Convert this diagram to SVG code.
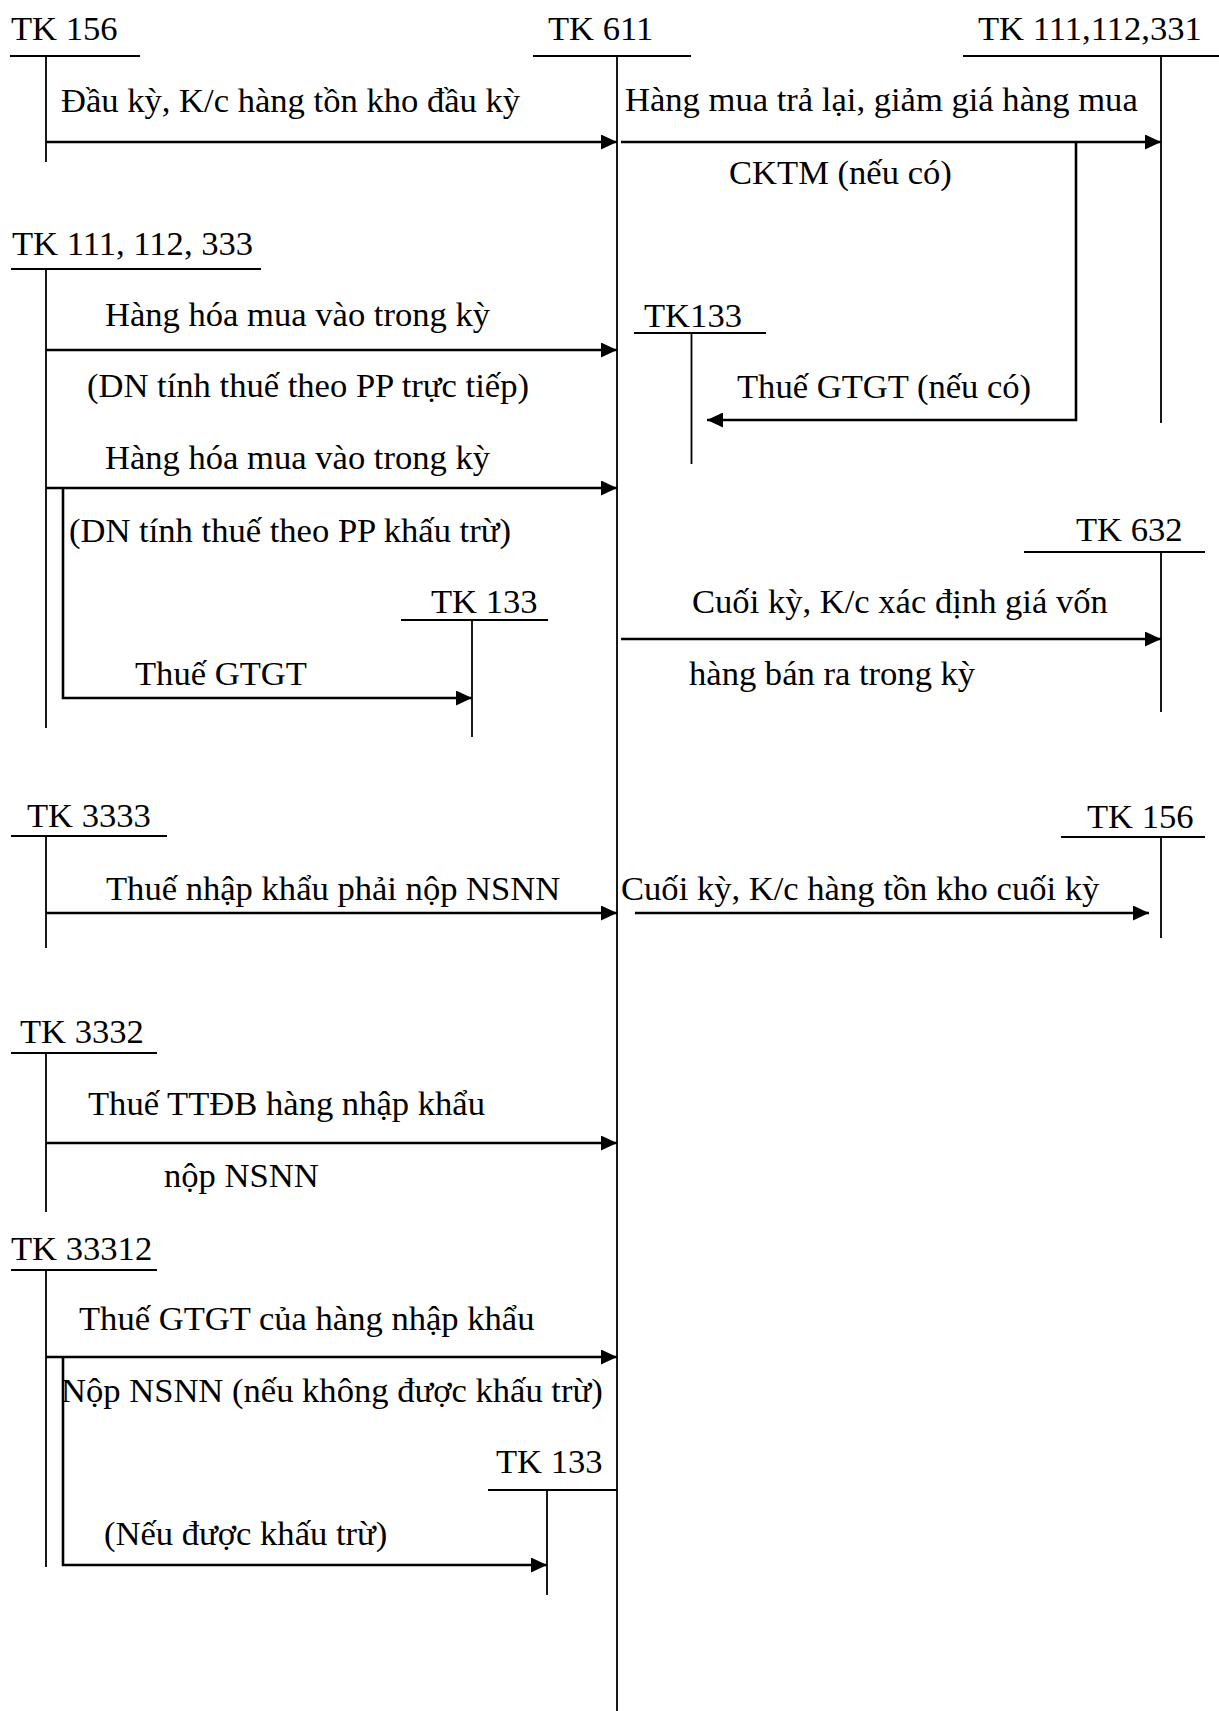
<svg xmlns="http://www.w3.org/2000/svg" width="1219" height="1711" viewBox="0 0 1219 1711">
<style>
text{font-family:"Liberation Serif","Times New Roman",serif;font-size:34.6px;fill:#000}
.t{stroke:#000;stroke-width:1.8;fill:none}
.a{stroke:#000;stroke-width:2.6;fill:none;marker-end:url(#ah)}
</style>
<defs>
<marker id="ah" markerUnits="userSpaceOnUse" markerWidth="17" markerHeight="15" refX="16" refY="7.5" orient="auto">
<path d="M0,0 L16,7.5 L0,15 z" fill="#000"/>
</marker>
</defs>
<rect width="1219" height="1711" fill="#fff"/>
<g id="tk156-top">
<text x="11" y="40">TK 156</text>
<path class="t" d="M10,56 H140 M46,56 V162"/>
</g>
<g id="tk611">
<text x="548" y="40">TK 611</text>
<path class="t" d="M533,56 H691 M617,56 V1711"/>
</g>
<g id="tk111-112-331">
<text x="978" y="40">TK 111,112,331</text>
<path class="t" d="M963,56 H1219 M1161,56 V423"/>
</g>
<g id="tk111-112-333">
<text x="12" y="255">TK 111, 112, 333</text>
<path class="t" d="M11,269 H261 M46,269 V728"/>
</g>
<g id="tk133-center">
<text x="644" y="327">TK133</text>
<path class="t" d="M634,333 H766 M691.5,333 V464"/>
</g>
<g id="tk133-left">
<text x="431" y="613">TK 133</text>
<path class="t" d="M401,620 H548 M472,620 V737"/>
</g>
<g id="tk632">
<text x="1076" y="541">TK 632</text>
<path class="t" d="M1024,552 H1205 M1161,552 V712"/>
</g>
<g id="tk3333">
<text x="27" y="827">TK 3333</text>
<path class="t" d="M11,836 H167 M46,836 V948"/>
</g>
<g id="tk156-right">
<text x="1087" y="828">TK 156</text>
<path class="t" d="M1061,837 H1205 M1161,837 V938"/>
</g>
<g id="tk3332">
<text x="20" y="1043">TK 3332</text>
<path class="t" d="M11,1053 H157 M46,1053 V1212"/>
</g>
<g id="tk33312">
<text x="11" y="1260">TK 33312</text>
<path class="t" d="M11,1270 H157 M46,1270 V1567"/>
</g>
<g id="tk133-bottom">
<text x="496" y="1473">TK 133</text>
<path class="t" d="M488,1490 H617 M547,1490 V1595"/>
</g>
<g id="connectors">
<path class="a" d="M46,142 H617"/>
<text x="61" y="112">Đầu kỳ, K/c hàng tồn kho đầu kỳ</text>
<path class="a" d="M621,142 H1161"/>
<text x="625" y="111">Hàng mua trả lại, giảm giá hàng mua</text>
<text x="729" y="184">CKTM (nếu có)</text>
<path class="a" d="M1076,142 V420 H707"/>
<text x="737" y="398">Thuế GTGT (nếu có)</text>
<path class="a" d="M46,350 H617"/>
<text x="105" y="326">Hàng hóa mua vào trong kỳ</text>
<text x="87" y="397">(DN tính thuế theo PP trực tiếp)</text>
<path class="a" d="M46,488 H617"/>
<text x="105" y="469">Hàng hóa mua vào trong kỳ</text>
<text x="69" y="542">(DN tính thuế theo PP khấu trừ)</text>
<path class="a" d="M63,488 V698 H472"/>
<text x="135" y="685">Thuế GTGT</text>
<path class="a" d="M621,639 H1161"/>
<text x="692" y="613">Cuối kỳ, K/c xác định giá vốn</text>
<text x="689" y="685">hàng bán ra trong kỳ</text>
<path class="a" d="M46,913 H617"/>
<text x="106" y="900">Thuế nhập khẩu phải nộp NSNN</text>
<path class="a" d="M635,913 H1149"/>
<text x="621" y="900">Cuối kỳ, K/c hàng tồn kho cuối kỳ</text>
<path class="a" d="M46,1143 H617"/>
<text x="88" y="1115">Thuế TTĐB hàng nhập khẩu</text>
<text x="164" y="1187">nộp NSNN</text>
<path class="a" d="M46,1357 H617"/>
<text x="79" y="1330">Thuế GTGT của hàng nhập khẩu</text>
<text x="61" y="1402">Nộp NSNN (nếu không được khấu trừ)</text>
<path class="a" d="M63,1357 V1565 H547"/>
<text x="104" y="1545">(Nếu được khấu trừ)</text>
</g>
</svg>
